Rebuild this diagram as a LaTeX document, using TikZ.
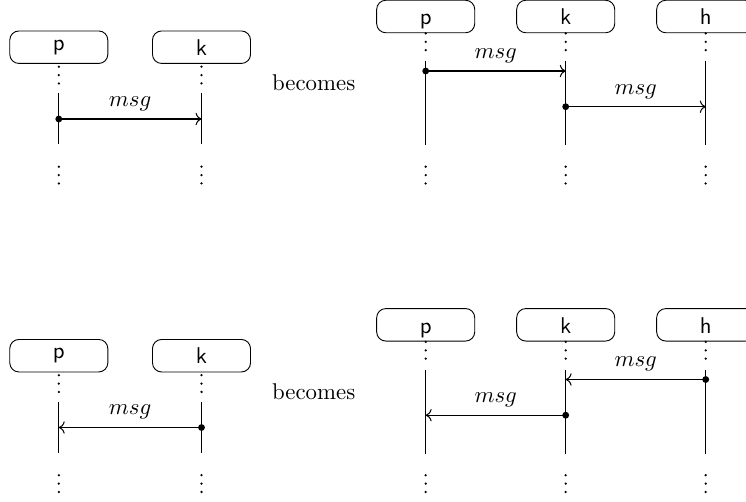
\documentclass[tikz,border=0pt]{standalone}
\usetikzlibrary{arrows.meta}
\newcommand\mylifeline[5]{%
  \draw[dotline] (#1,#2) -- ++(0,17.4);
  \draw[lifeline] (#1,#3) -- (#1,#4);
  \draw[dotline] (#1,#5) -- ++(0,17.4);}
\begin{document}
\begin{tikzpicture}[x=0.4386pt,y=-0.4386pt,
  procbox/.style={draw,rounded corners=4pt,minimum width=43pt,minimum height=14.25pt,inner sep=2pt,font=\sffamily},
  procboxR/.style={procbox,text height=7.4pt,text depth=0pt},
  dotline/.style={line width=1.1pt,line cap=round,dash pattern=on 0pt off 3.68pt},
  lifeline/.style={line width=0.45pt},
  msgarrow/.style={->,line width=0.45pt},
  lbl/.style={above,inner sep=3.33pt},
  startdot/.style={circle,fill,inner sep=0pt,minimum size=3pt},
  becomes/.style={anchor=base}]
\useasboundingbox (0,0) rectangle (746,501);

% ---------- top left ----------
\node[procbox] (tlp) at (58.8,47.2) {p};
\node[procbox] (tlk) at (201.5,47.2) {k};
\mylifeline{58.8}{66.7}{93}{144}{166.7}
\mylifeline{201.5}{66.7}{93}{144}{166.7}
\coordinate (tla) at (58.8,119);
\coordinate (tlb) at (201.5,119);
\draw[msgarrow] (tla) -- node[lbl] {$msg$} (tlb);
\node[startdot] at (tla) {};

\node[becomes] (b1) at (313.7,90.7) {becomes};

% ---------- top right ----------
\node[procboxR] (trp) at (425.7,16.5) {p};
\node[procboxR] (trk) at (565.7,16.5) {k};
\node[procboxR] (trh) at (705.7,16.5) {h};
\mylifeline{425.7}{33.4}{61}{145}{166.7}
\mylifeline{565.7}{33.4}{61}{145}{166.7}
\mylifeline{705.7}{33.4}{61}{145}{166.7}
\coordinate (tra1) at (425.7,71);
\coordinate (trb1) at (565.7,71);
\coordinate (tra2) at (565.7,106.7);
\coordinate (trb2) at (705.7,106.7);
\draw[msgarrow] (tra1) -- node[lbl] {$msg$} (trb1);
\node[startdot] at (tra1) {};
\draw[msgarrow] (tra2) -- node[lbl] {$msg$} (trb2);
\node[startdot] at (tra2) {};

% ---------- bottom left ----------
\node[procbox] (blp) at (58.8,355.7) {p};
\node[procbox] (blk) at (201.5,355.7) {k};
\mylifeline{58.8}{375.2}{401.5}{452.5}{475.2}
\mylifeline{201.5}{375.2}{401.5}{452.5}{475.2}
\coordinate (bla) at (201.5,427.5);
\coordinate (blb) at (58.8,427.5);
\draw[msgarrow] (bla) -- node[lbl] {$msg$} (blb);
\node[startdot] at (bla) {};

\node[becomes] (b2) at (313.7,399.2) {becomes};

% ---------- bottom right ----------
\node[procboxR] (brp) at (425.7,324.8) {p};
\node[procboxR] (brk) at (565.7,324.8) {k};
\node[procboxR] (brh) at (705.7,324.8) {h};
\mylifeline{425.7}{341.9}{369.5}{453.5}{475.2}
\mylifeline{565.7}{341.9}{369.5}{453.5}{475.2}
\mylifeline{705.7}{341.9}{369.5}{453.5}{475.2}
\coordinate (bra1) at (705.7,379.5);
\coordinate (brb1) at (565.7,379.5);
\coordinate (bra2) at (565.7,415.2);
\coordinate (brb2) at (425.7,415.2);
\draw[msgarrow] (bra1) -- node[lbl] {$msg$} (brb1);
\node[startdot] at (bra1) {};
\draw[msgarrow] (bra2) -- node[lbl] {$msg$} (brb2);
\node[startdot] at (bra2) {};
\end{tikzpicture}
\end{document}
